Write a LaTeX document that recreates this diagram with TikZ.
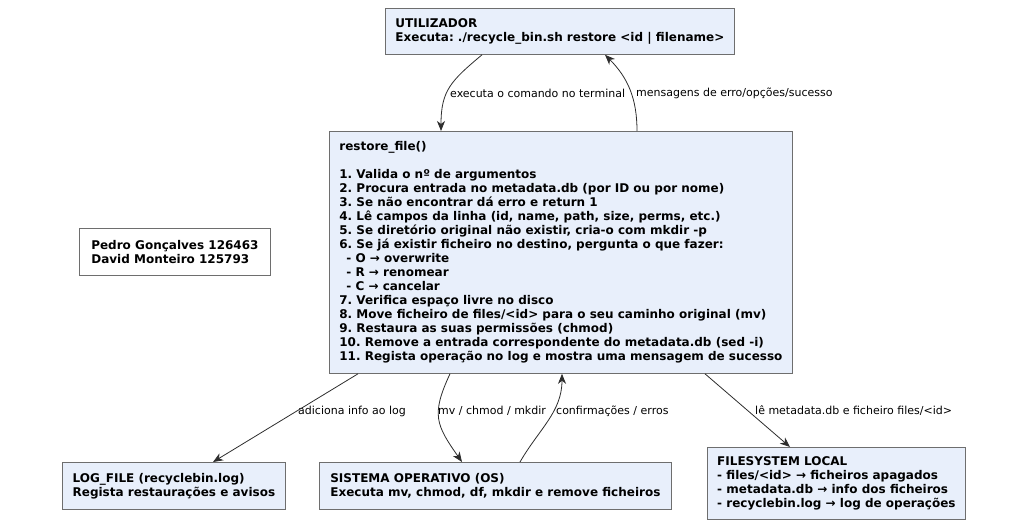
\documentclass[tikz,border=0pt]{standalone}
\usepackage{fontspec}
\setmainfont{DejaVu Sans}
\usetikzlibrary{arrows.meta}
\definecolor{box_fill}{RGB}{232,239,251}
\definecolor{box_edge}{RGB}{110,110,110}
\definecolor{edge_dark}{RGB}{45,45,45}
\frenchspacing

\begin{document}
\begin{tikzpicture}[x=1pt,y=1pt,>={Stealth[length=10pt,width=8pt,inset=3pt]}]
    \tikzstyle{box}=[draw=box_edge, line width=0.8pt, fill=box_fill, anchor=north west, align=left, inner sep=0pt, font=\bfseries\fontsize{12}{14}\selectfont]
    \tikzstyle{note}=[style=box, fill=white]
    \tikzstyle{lbl}=[anchor=west, inner sep=0pt, font=\fontsize{11}{13}\selectfont]
    \tikzstyle{link}=[->, draw=edge_dark, line width=0.8pt]

    \useasboundingbox (0,0) rectangle (1030,-532);

    \node[box, minimum width=349pt, minimum height=46pt] (user) at (385,-8)
      {UTILIZADOR\\Executa: ./recycle\_bin.sh restore <id | filename>};
    \node[box, minimum width=463pt, minimum height=242pt] (restore) at (329,-131)
      {restore\_file()\\[14pt]
       1. Valida o nº de argumentos\\
       2. Procura entrada no metadata.db (por ID ou por nome)\\
       3. Se não encontrar dá erro e return 1\\
       4. Lê campos da linha (id, name, path, size, perms, etc.)\\
       5. Se diretório original não existir, cria-o com mkdir -p\\
       6. Se já existir ficheiro no destino, pergunta o que fazer:\\
       \hspace*{7pt}- O → overwrite\\
       \hspace*{7pt}- R → renomear\\
       \hspace*{7pt}- C → cancelar\\
       7. Verifica espaço livre no disco\\
       8. Move ficheiro de files/<id> para o seu caminho original (mv)\\
       9. Restaura as suas permissões (chmod)\\
       10. Remove a entrada correspondente do metadata.db (sed -i)\\
       11. Regista operação no log e mostra uma mensagem de sucesso};
    \node[note, minimum width=191pt, minimum height=47pt] (authors) at (79,-228)
      {Pedro Gonçalves 126463\\David Monteiro 125793};
    \node[box, minimum width=223pt, minimum height=47pt] (log) at (62,-462)
      {LOG\_FILE (recyclebin.log)\\Regista restaurações e avisos};
    \node[box, minimum width=352pt, minimum height=47pt] (os) at (319,-462)
      {SISTEMA OPERATIVO (OS)\\Executa mv, chmod, df, mkdir e remove ficheiros};
    \node[box, minimum width=258pt, minimum height=72pt] (fs) at (707,-447)
      {FILESYSTEM LOCAL\\- files/<id> → ficheiros apagados\\- metadata.db → info dos ficheiros\\- recyclebin.log → log de operações};

    \node[lbl] (l_exec) at (450,-93)  {executa o comando no terminal};
    \node[lbl] (l_msg)  at (636,-93)  {mensagens de erro/opções/sucesso};
    \node[lbl] (l_log)  at (298,-411) {adiciona info ao log};
    \node[lbl] (l_mv)   at (438,-411) {mv / chmod / mkdir};
    \node[lbl] (l_conf) at (556,-411) {confirmações / erros};
    \node[lbl] (l_fs)   at (755,-411) {lê metadata.db e ficheiro files/<id>};

    \path
     ([xshift=97pt]user.south west) edge[link, out=-140, in=90, looseness=1.2] ([xshift=112pt]restore.north west)
     ([xshift=308pt]restore.north west) edge[link, out=90, in=-45] ([xshift=220pt]user.south west)
     ([xshift=29pt]restore.south west) edge[link] ([xshift=151pt]log.north west)
     ([xshift=121pt]restore.south west) edge[link, out=-115, in=125, looseness=1.3] ([xshift=143pt]os.north west)
     ([xshift=201pt]os.north west) edge[link, out=60, in=-90] ([xshift=233pt]restore.south west)
     ([xshift=376pt]restore.south west) edge[link] ([xshift=83pt]fs.north west)
     ;
\end{tikzpicture}
\end{document}
